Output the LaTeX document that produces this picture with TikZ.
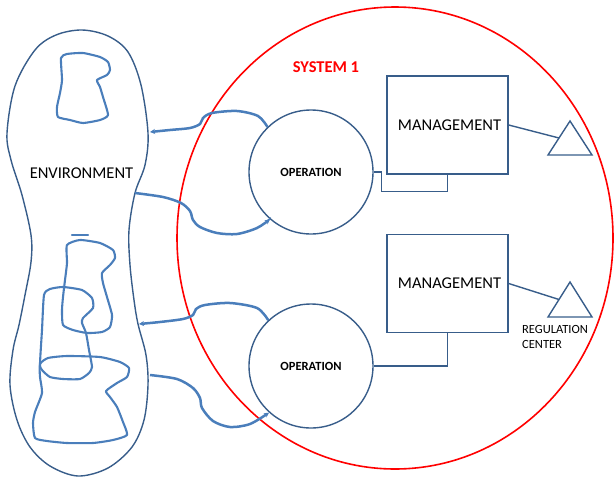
\documentclass[tikz,border=0pt]{standalone}
\usepackage{fontspec}
\setmainfont{Carlito}
\usetikzlibrary{arrows.meta}
\definecolor{dkblue}{RGB}{56,93,138}
\definecolor{ltblue}{RGB}{74,126,187}
\definecolor{sysred}{RGB}{255,0,0}
\begin{document}
\begin{tikzpicture}[x=1pt,y=-1pt,
  outl/.style={draw=dkblue,line width=1.4pt},
  scrib/.style={draw=ltblue,line width=2.1pt,line join=round,line cap=round},
  flow/.style={draw=ltblue,line width=2.5pt,-{Stealth[length=5pt,width=5pt]}},
  opnode/.style={circle,outl,minimum size=124pt,inner sep=0pt,font=\bfseries\fontsize{12.5}{14}\selectfont},
  mgnode/.style={rectangle,outl,minimum width=121pt,minimum height=98pt,inner sep=0pt,font=\fontsize{16.5}{19}\selectfont},
  bigtext/.style={font=\fontsize{16.5}{19}\selectfont,inner sep=0pt},
  systext/.style={font=\bfseries\fontsize{16.5}{19}\selectfont,text=sysred,inner sep=0pt},
  smalltext/.style={font=\fontsize{12.5}{15}\selectfont,inner sep=0pt,align=left},
  tri/.style={outl,line join=miter}
]
\useasboundingbox (0,0) rectangle (615,477);

% environment outline
\draw[outl] plot[smooth cycle,tension=0.55] coordinates {
 (82,30) (108,36) (128,52) (141,85) (148,133) (145,165) (135,193) (129,230)
 (130,265) (134,300) (138,324) (146,355) (148,385) (144,420) (132,447)
 (108,468) (78,476) (50,466) (30,447) (17,420) (10,385) (13,350) (19,325)
 (25,295) (31,262) (31,235) (22,195) (11,160) (7,133) (15,86) (35,50) (56,35)};
\node[bigtext] (env) at (81.5,173) {ENVIRONMENT};

% scribbles
\draw[scrib] plot[smooth cycle,tension=0.35] coordinates {
 (61,58) (67,54) (83,53) (100,57) (108,62) (110,70) (107,75) (97,80) (100,87)
 (103,97) (108,115) (100,120) (83,123) (70,120) (58,117) (57,107) (60,93) (62,80)};
\draw[scrib] (72,235) -- (88,235);
\draw[scrib] plot[smooth cycle,tension=0.35] coordinates {
 (67,245) (80,240) (100,243) (113,250) (115,258) (110,265) (102,273) (103,283)
 (107,297) (112,315) (110,327) (102,332) (87,333) (73,330) (63,325) (62,310)
 (63,297) (65,280) (67,263)};
\draw[scrib] plot[smooth cycle,tension=0.35] coordinates {
 (40,364) (42,330) (44,295) (50,289) (63,287) (82,290) (92,298) (93,308) (83,318)
 (82,323) (86,333) (89,350) (92,367) (89,373) (80,379) (63,379) (50,377) (42,370)};
\draw[scrib] plot[smooth cycle,tension=0.35] coordinates {
 (40,364) (48,358) (67,356) (100,357) (120,362) (129,368) (127,377) (117,383)
 (106,391) (110,397) (117,407) (123,422) (127,435) (113,440) (93,443) (67,443)
 (47,441) (35,438) (33,423) (35,412) (42,393) (40,377)};

% system boundary
\draw[sysred,line width=1.6pt] (395,238) ellipse [x radius=218pt, y radius=231pt];
\node[systext] (sys) at (326,67) {SYSTEM 1};

% operations and management
\node[opnode] (op1) at (311,172) {OPERATION};
\node[opnode] (op2) at (311,366) {OPERATION};
\node[mgnode] (mg1) at (447.5,125) {\hspace*{4pt}MANAGEMENT};
\node[mgnode] (mg2) at (447.5,283.5) {\hspace*{4pt}MANAGEMENT};

\draw[outl] (op1.east) -- ++(8,0) |- ([yshift=-17pt]mg1.south) -- (mg1.south);
\draw[outl] (op2.east) -| (mg2.south);

% regulation triangles
\coordinate (t1a) at (570,121); \coordinate (t1b) at (548,155); \coordinate (t1c) at (592,155);
\coordinate (t1m) at (559,138);
\coordinate (t2a) at (570,282); \coordinate (t2b) at (548,317); \coordinate (t2c) at (592,317);
\coordinate (t2m) at (559,299.5);
\draw[tri] (t1a) -- (t1b) -- (t1c) -- cycle;
\draw[tri] (t2a) -- (t2b) -- (t2c) -- cycle;
\draw[outl] (mg1.east) -- (t1m);
\draw[outl] (mg2.east) -- (t2m);
\node[smalltext,anchor=north west] (reg) at (522,325) {REGULATION\\CENTER};

% flows between environment and operations
\coordinate (envA) at (150,132);
\coordinate (envB) at (135,193);
\coordinate (envC) at (139,324);
\coordinate (envD) at (150,375);
\draw[flow] plot[smooth,tension=0.5] coordinates {(op1.134) (258,116) (237,111) (212,113)
 (203,118) (200,124) (190,128) (170,130) (envA)};
\draw[flow] plot[smooth,tension=0.5] coordinates {(envB) (163,197) (181,203) (190,211)
 (193,220) (200,227) (217,233) (237,234) (257,228) (op1.229)};
\draw[flow] plot[smooth,tension=0.5] coordinates {(op2.133) (257,308) (230,303) (205,305)
 (196,309) (193,315) (183,319) (160,322) (envC)};
\draw[flow] plot[smooth,tension=0.5] coordinates {(envD) (177,379) (193,388) (200,398)
 (202,408) (213,421) (230,427) (250,424) (op2.228)};
\end{tikzpicture}
\end{document}
